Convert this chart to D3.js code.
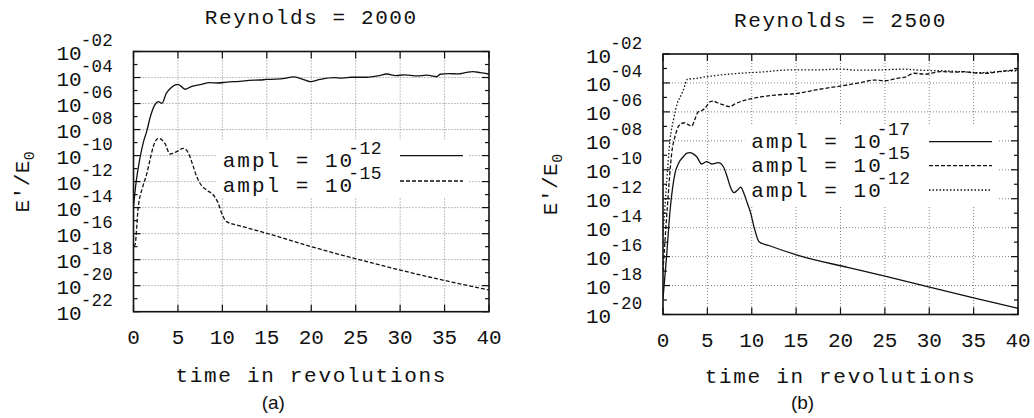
<!DOCTYPE html>
<html>
<head>
<meta charset="utf-8">
<script src="https://cdn.jsdelivr.net/npm/d3@7"></script>
<style>
  body { margin: 0; background: #fff; }
  svg { display: block; }
  text { fill: #111; }
</style>
</head>
<body>
<div id="chart"></div>
<script>
// ---- data (exponents of E'/E0 vs time in revolutions) ----
var xTicks = [0, 5, 10, 15, 20, 25, 30, 35, 40];

// panel (a) Reynolds = 2000
var a12T = [0, 0.3, 0.7, 1.1, 1.5, 1.9, 2.4, 2.8, 3.2, 3.7, 4.2, 4.7, 5.0, 5.4, 5.8, 6.5, 7.5, 8.6, 9.5, 10.5, 11.2, 12.0, 13.0, 14.2, 15.0, 16.0, 17.0, 18.0, 19.0, 19.9, 21.0, 22.5, 23.5, 24.5, 26.2, 27.5, 28.5, 29.5, 30.5, 31.9, 33.0, 34.1, 34.5, 35.5, 36.5, 37.5, 38.2, 39.0, 40];
var a12E = [-13.9, -12.0, -10.3, -9.0, -8.1, -7.0, -6.1, -5.86, -5.98, -5.2, -4.8, -4.57, -4.52, -4.7, -4.9, -4.7, -4.55, -4.4, -4.42, -4.35, -4.32, -4.3, -4.22, -4.19, -4.15, -4.12, -4.06, -3.95, -4.12, -4.32, -4.15, -4.01, -4.05, -3.98, -3.98, -3.88, -3.73, -3.85, -3.8, -3.88, -3.82, -3.94, -3.75, -3.7, -3.72, -3.6, -3.55, -3.62, -3.73];
var a15T = [0, 0.15, 0.54, 1.0, 1.49, 1.9, 2.23, 2.79, 3.2, 3.54, 4.1, 4.5, 4.86, 5.6, 6.16, 6.73, 7.1, 7.48, 8.23, 8.98, 9.54, 9.92, 10.48, 12.0, 14.98, 20.0, 25.1, 30.0, 35.0, 40];
var a15E = [-16.9, -16.9, -13.9, -12.5, -11.4, -10.2, -9.3, -8.67, -8.8, -9.06, -9.88, -9.8, -9.7, -9.44, -9.78, -10.85, -11.6, -12.13, -12.65, -13.03, -13.67, -14.44, -15.08, -15.4, -15.97, -17.0, -17.95, -18.8, -19.6, -20.33];

// panel (b) Reynolds = 2500
var b17T = [0, 0.4, 0.8, 1.35, 1.8, 2.29, 2.7, 3.04, 3.4, 3.8, 4.36, 4.92, 5.49, 6.23, 6.8, 7.24, 7.6, 8.0, 8.4, 8.75, 9.1, 9.5, 9.88, 10.25, 10.82, 12.0, 15.13, 20.8, 25.0, 29.8, 35.0, 40];
var b17E = [-18.9, -16.0, -12.8, -10.25, -9.5, -9.1, -8.85, -8.82, -8.9, -9.1, -9.6, -9.44, -9.6, -9.51, -9.79, -10.5, -11.2, -11.58, -11.4, -11.2, -11.6, -12.3, -13.0, -13.93, -14.97, -15.25, -15.89, -16.75, -17.35, -18.08, -18.85, -19.57];
var b15T = [0, 0.5, 0.98, 1.4, 1.72, 2.1, 2.48, 2.9, 3.23, 3.6, 3.98, 4.4, 4.73, 5.3, 5.7, 6.05, 6.8, 7.55, 8.1, 8.68, 10.17, 12.8, 15.13, 17.5, 20.77, 22.5, 23.77, 25.0, 26.4, 27.3, 28.28, 29.5, 31.3, 33.0, 33.9, 35.0, 36.5, 38.0, 40];
var b15E = [-17.0, -12.5, -8.86, -7.6, -7.02, -6.8, -6.75, -6.9, -6.98, -6.5, -5.99, -5.9, -5.75, -5.3, -5.25, -5.35, -5.52, -5.64, -5.45, -5.3, -5.06, -4.83, -4.72, -4.45, -4.14, -3.95, -3.8, -3.85, -3.68, -3.6, -3.33, -3.4, -3.22, -3.25, -3.22, -3.3, -3.33, -3.2, -3.1];
var b12T = [0, 0.4, 0.79, 1.2, 1.61, 2.0, 2.29, 2.74, 3.5, 4.92, 6.5, 8.68, 11.0, 14.3, 17.0, 20.0, 22.0, 24.5, 27.0, 29.0, 32.0, 33.5, 35.8, 37.0, 38.5, 40];
var b12E = [-14.5, -11.0, -7.94, -6.5, -5.41, -4.9, -4.49, -3.75, -3.7, -3.57, -3.45, -3.33, -3.25, -3.1, -3.1, -3.05, -3.12, -3.1, -3.05, -3.12, -3.17, -3.22, -3.29, -3.25, -3.2, -3.15];

// ---- layout ----
var mono = "'Liberation Mono', 'DejaVu Sans Mono', monospace";
var svg = d3.select("#chart").append("svg")
  .attr("width", 1034)
  .attr("height", 418);

function zip(ts, es) {
  return ts.map((t, i) => ({ t: t, e: es[i] }));
}

function drawPanel(p) {
  var x = d3.scaleLinear().domain([0, 40]).range([p.x0, p.x1]);
  var y = d3.scaleLog().domain([Math.pow(10, p.eMin), 1e-2]).range([p.y1, p.y0]);
  var g = svg.append("g");

  var majorE = d3.range(p.eMin, -1, 2);
  var minorE = d3.range(p.eMin + 1, -2, 2);

  // grid
  g.append("g").selectAll("line").data(xTicks.slice(1, -1)).enter().append("line")
    .attr("x1", d => x(d)).attr("x2", d => x(d))
    .attr("y1", p.y0).attr("y2", p.y1)
    .attr("stroke", "#777").attr("stroke-width", 0.9).attr("stroke-dasharray", "1,2");
  g.append("g").selectAll("line").data(majorE.slice(1, -1)).enter().append("line")
    .attr("x1", p.x0).attr("x2", p.x1)
    .attr("y1", d => y(Math.pow(10, d))).attr("y2", d => y(Math.pow(10, d)))
    .attr("stroke", "#777").attr("stroke-width", 0.9).attr("stroke-dasharray", "1,2");

  // ticks on all four sides (inward)
  var tk = g.append("g").attr("stroke", "#111").attr("stroke-width", 1.2);
  xTicks.forEach(function(d) {
    tk.append("line").attr("x1", x(d)).attr("x2", x(d)).attr("y1", p.y1).attr("y2", p.y1 - 7);
    tk.append("line").attr("x1", x(d)).attr("x2", x(d)).attr("y1", p.y0).attr("y2", p.y0 + 7);
  });
  majorE.forEach(function(d) {
    var yy = y(Math.pow(10, d));
    tk.append("line").attr("x1", p.x0).attr("x2", p.x0 + 7).attr("y1", yy).attr("y2", yy);
    tk.append("line").attr("x1", p.x1).attr("x2", p.x1 - 7).attr("y1", yy).attr("y2", yy);
  });
  minorE.forEach(function(d) {
    var yy = y(Math.pow(10, d));
    tk.append("line").attr("x1", p.x0).attr("x2", p.x0 + 4).attr("y1", yy).attr("y2", yy);
    tk.append("line").attr("x1", p.x1).attr("x2", p.x1 - 4).attr("y1", yy).attr("y2", yy);
  });

  // legend background
  g.append("rect")
    .attr("x", p.legX - 7).attr("y", p.legRows[0] - 16)
    .attr("width", p.legLineX1 - p.legX + 12)
    .attr("height", p.legRows[p.legRows.length - 1] - p.legRows[0] + 32)
    .attr("fill", "#fff");

  // curves
  var clipId = "clip" + p.id;
  svg.append("clipPath").attr("id", clipId).append("rect")
    .attr("x", p.x0).attr("y", p.y0).attr("width", p.x1 - p.x0).attr("height", p.y1 - p.y0);
  var line = d3.line()
    .x(d => x(d.t))
    .y(d => y(Math.pow(10, d.e)))
    .curve(d3.curveMonotoneX);
  p.series.forEach(function(s) {
    g.append("path").datum(zip(s.t, s.e))
      .attr("clip-path", "url(#" + clipId + ")")
      .attr("d", line)
      .attr("fill", "none").attr("stroke", "#111").attr("stroke-width", 1.3)
      .attr("stroke-dasharray", s.dash);
  });

  // legend
  p.series.forEach(function(s, i) {
    var ly = p.legRows[s.row];
    var t = g.append("text")
      .attr("x", p.legX).attr("y", ly + p.legBase)
      .attr("font-family", mono).attr("font-size", 21)
      .attr("xml:space", "preserve");
    t.append("tspan").attr("letter-spacing", 2).text("ampl = 1");
    t.append("tspan").text("0");
    t.append("tspan").attr("dy", -13).attr("dx", -4).attr("font-size", 18).attr("letter-spacing", 0.5).text(s.label);
    g.append("line")
      .attr("x1", p.legLineX0).attr("x2", p.legLineX1).attr("y1", ly).attr("y2", ly)
      .attr("stroke", "#111").attr("stroke-width", 1.3).attr("stroke-dasharray", s.dash);
  });

  // frame
  g.append("rect")
    .attr("x", p.x0).attr("y", p.y0).attr("width", p.x1 - p.x0).attr("height", p.y1 - p.y0)
    .attr("fill", "none").attr("stroke", "#111").attr("stroke-width", 1.6);

  // y tick labels 10^-nn
  majorE.forEach(function(d) {
    var yy = y(Math.pow(10, d));
    var t = g.append("text")
      .attr("x", p.x0 - 77).attr("y", yy + 8.5)
      .attr("font-family", mono).attr("font-size", 21);
    t.append("tspan").text("10");
    var lab = "-" + (Math.abs(d) < 10 ? "0" : "") + Math.abs(d);
    t.append("tspan").attr("dx", -1).attr("dy", -14).attr("font-size", 17.5).attr("letter-spacing", 0.3).text(lab);
  });

  // x tick labels
  g.append("g").selectAll("text").data(xTicks).enter().append("text")
    .attr("x", d => x(d)).attr("y", p.y1 + p.xLabDy)
    .attr("text-anchor", "middle")
    .attr("font-family", mono).attr("font-size", 21)
    .text(d => d);

  // title, axis titles, panel tag
  var cx = (p.x0 + p.x1) / 2;
  g.append("text").attr("x", cx).attr("y", p.titleY)
    .attr("text-anchor", "middle").attr("font-family", mono).attr("font-size", 21).attr("letter-spacing", 1.6)
    .text(p.title);
  g.append("text").attr("x", cx).attr("y", p.xTitleY)
    .attr("text-anchor", "middle").attr("font-family", mono).attr("font-size", 21).attr("letter-spacing", 1.7)
    .text("time in revolutions");
  g.append("text").attr("x", cx - 38).attr("y", 409)
    .attr("text-anchor", "middle").attr("font-family", "'Liberation Sans', Arial, sans-serif").attr("font-size", 19)
    .text(p.tag);
  var yl = g.append("text")
    .attr("transform", `translate(${p.yLabX}, ${(p.y0 + p.y1) / 2}) rotate(-90)`)
    .attr("text-anchor", "middle").attr("font-family", mono).attr("font-size", 21).attr("letter-spacing", 0.5);
  yl.append("tspan").text("E'/E");
  yl.append("tspan").attr("dy", 5).attr("font-size", 15).text("0");
}

drawPanel({
  id: "a", x0: 133.5, x1: 489, y0: 51.5, y1: 311.7, eMin: -22,
  title: "Reynolds = 2000", titleY: 24, xLabDy: 32.5, xTitleY: 381.5, tag: "(a)", yLabX: 29,
  legX: 222.7, legLineX0: 400, legLineX1: 463, legRows: [155.7, 181], legBase: 10.8,
  series: [
    { t: a12T, e: a12E, dash: null, label: "-12", row: 0 },
    { t: a15T, e: a15E, dash: "4,2", label: "-15", row: 1 }
  ]
});

drawPanel({
  id: "b", x0: 663, x1: 1018, y0: 54, y1: 314.5, eMin: -20,
  title: "Reynolds = 2500", titleY: 26.7, xLabDy: 32.5, xTitleY: 383, tag: "(b)", yLabX: 557,
  legX: 751.3, legLineX0: 929, legLineX1: 992, legRows: [141.7, 165.7, 190], legBase: 6.5,
  series: [
    { t: b17T, e: b17E, dash: null, label: "-17", row: 0 },
    { t: b15T, e: b15E, dash: "4,2", label: "-15", row: 1 },
    { t: b12T, e: b12E, dash: "1.5,2", label: "-12", row: 2 }
  ]
});
</script>
</body>
</html>
